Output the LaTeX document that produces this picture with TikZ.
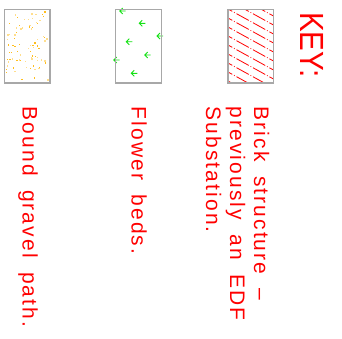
\documentclass[tikz,border=0pt]{standalone}
\usepackage{fontspec}
\setmainfont{Liberation Sans}
\newfontfamily\lblfont[LetterSpace=10,WordSpace=1.8]{Liberation Sans}
\newfontfamily\keyfont{Liberation Sans}
\definecolor{keyred}{RGB}{255,0,0}
\definecolor{boxgray}{RGB}{168,168,168}
\definecolor{gravelA}{RGB}{255,190,30}
\definecolor{gravelB}{RGB}{255,222,140}
\definecolor{plantgreen}{RGB}{20,225,20}
\begin{document}
\begin{tikzpicture}[x=1pt,y=-1pt,
  keybox/.style={draw=boxgray,line width=1.2pt},
  lbl/.style={text=keyred,rotate=-90,anchor=base west,inner sep=0pt,font=\lblfont\fontsize{21}{24}\selectfont},
  hatch/.style={draw=keyred,line width=0.8pt,dash pattern={on 14pt off 2pt on 0.8pt off 2pt}},
  plant/.pic={\draw[plantgreen,line width=0.9pt] (-3,0) -- (3,0) (0,-3) -- (-3,0) -- (0,3);}
]
\useasboundingbox (0,0) rectangle (342,338);
% gravel box
\pgfmathsetseed{11}
\foreach \i in {1,...,80}{
  \pgfmathsetmacro\gx{6+42*rnd}
  \pgfmathsetmacro\gy{11+70*rnd}
  \pgfmathsetmacro\gc{rnd}
  \ifdim\gc pt<0.45pt
    \fill[gravelA] (\gx,\gy) rectangle ++(1.2,1.2);
  \else
    \fill[gravelB] (\gx,\gy) rectangle ++(1.5,1.5);
  \fi
}
\draw[keybox] (4.3,9.5) rectangle (50,83);
% flower box
\foreach \px/\py in {122.7/11,142.3/23.3,160/36,129.3/41.7,147.7/55,116.7/60,134.3/73.3}
  \pic at (\px,\py) {plant};
\draw[keybox] (115.5,9.5) rectangle (161.5,83);
% brick box
\begin{scope}
  \clip (228,9.5) rectangle (273.5,83);
  \foreach \k in {-5,...,9}
    \draw[hatch] (220,{9+9*\k-0.55*8}) -- (282,{9+9*\k+0.55*54});
\end{scope}
\draw[keybox] (228,9.5) rectangle (273.5,83);
% texts
\node[text=keyred,rotate=-90,anchor=base west,inner sep=0pt,font=\keyfont\fontsize{33.5}{36}\selectfont] (key) at (300,12) {\scalebox{0.88}[1]{KEY:}};
\node[lbl] (brickA) at (254,106.5) {Brick structure –};
\node[lbl] (brickB) at (230,106.5) {previously an EDF};
\node[lbl] (brickC) at (206,106.5) {Substation.};
\node[lbl] (flower) at (131.5,106.5) {Flower beds.};
\node[lbl] (gravel) at (22.5,106.5) {Bound gravel path.};
\end{tikzpicture}
\end{document}
